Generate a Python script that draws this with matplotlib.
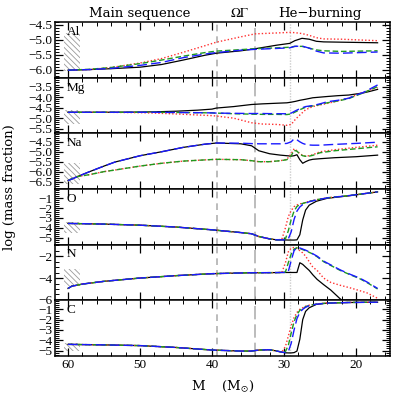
import matplotlib
matplotlib.use("Agg")
import matplotlib.pyplot as plt
from matplotlib.patches import Rectangle
from matplotlib.ticker import MultipleLocator

plt.rcParams['font.family'] = ['Liberation Serif', 'DejaVu Serif']
plt.rcParams['mathtext.fontset'] = 'stix'
plt.rcParams['hatch.linewidth'] = 0.6

# ---- data (mass coordinate in Msun, log mass fraction) ----
m_Al = [60, 57, 54, 50, 47, 44, 41, 39.4, 36, 34, 31, 29.2, 28.5, 27.5, 26.5, 25.5, 24.5, 22, 17]
al_black = [-6.02, -6.0, -5.97, -5.92, -5.83, -5.68, -5.52, -5.45, -5.37, -5.3, -5.18, -5.12, -5.03, -4.95, -4.98, -5.05, -5.07, -5.08, -5.1]
al_red = [-6.02, -6.0, -5.93, -5.78, -5.63, -5.42, -5.2, -5.08, -4.9, -4.8, -4.77, -4.75, -4.76, -4.79, -4.85, -4.93, -4.97, -4.98, -5.03]
al_green = [-6.02, -5.99, -5.93, -5.8, -5.68, -5.55, -5.43, -5.38, -5.33, -5.3, -5.27, -5.25, -5.22, -5.22, -5.28, -5.34, -5.37, -5.39, -5.37]
al_blue = [-6.02, -6.0, -5.96, -5.86, -5.76, -5.6, -5.48, -5.43, -5.35, -5.32, -5.29, -5.27, -5.22, -5.21, -5.28, -5.38, -5.44, -5.45, -5.41]

m_Mg = [60, 55, 50, 48, 45, 42, 40, 39.4, 37, 34.5, 33, 31, 29.6, 29.0, 28.4, 27.8, 27, 26, 25, 24, 22.5, 21, 20, 19, 18, 17]
mg_black = [-4.72, -4.72, -4.71, -4.7, -4.67, -4.62, -4.57, -4.52, -4.45, -4.35, -4.32, -4.29, -4.27, -4.24, -4.2, -4.15, -4.1, -4.03, -4.0, -3.97, -3.93, -3.9, -3.85, -3.8, -3.72, -3.63]
mg_red = [-4.72, -4.72, -4.74, -4.76, -4.8, -4.85, -4.88, -4.9, -5.0, -5.22, -5.28, -5.3, -5.34, -5.3, -5.05, -4.85, -4.6, -4.45, -4.37, -4.3, -4.18, -4.05, -3.9, -3.78, -3.65, -3.55]
mg_green = [-4.72, -4.72, -4.72, -4.72, -4.73, -4.74, -4.75, -4.76, -4.79, -4.81, -4.82, -4.82, -4.83, -4.8, -4.7, -4.6, -4.48, -4.42, -4.35, -4.27, -4.18, -4.07, -3.93, -3.8, -3.65, -3.5]
mg_blue = [-4.72, -4.72, -4.72, -4.72, -4.73, -4.74, -4.75, -4.76, -4.77, -4.78, -4.78, -4.79, -4.79, -4.76, -4.65, -4.55, -4.45, -4.4, -4.32, -4.22, -4.15, -4.05, -3.9, -3.78, -3.6, -3.42]

m_Na = [60, 59.5, 58.7, 57, 55, 53.5, 50, 47, 44, 41, 39.4, 36, 34.5, 33.5, 32, 30.5, 29.6, 29.0, 28.6, 28.2, 27.8, 27.4, 27.0, 26.5, 26, 25, 23, 20, 17]
na_black = [-6.45, -6.38, -6.25, -6.0, -5.72, -5.52, -5.2, -5.0, -4.78, -4.62, -4.56, -4.6, -4.7, -4.95, -5.1, -5.17, -5.2, -5.22, -5.2, -5.15, -5.4, -5.58, -5.5, -5.42, -5.38, -5.35, -5.3, -5.25, -5.17]
na_blue = [-6.45, -6.38, -6.25, -6.0, -5.72, -5.52, -5.2, -5.0, -4.78, -4.62, -4.56, -4.57, -4.59, -4.6, -4.6, -4.6, -4.58, -4.5, -4.35, -4.4, -4.5, -4.58, -4.63, -4.66, -4.67, -4.67, -4.63, -4.58, -4.52]
na_red = [-6.45, -6.35, -6.25, -6.15, -6.0, -5.92, -5.72, -5.58, -5.47, -5.41, -5.38, -5.4, -5.45, -5.5, -5.5, -5.45, -5.38, -5.1, -4.85, -4.95, -5.1, -5.18, -5.22, -5.2, -5.15, -5.0, -4.9, -4.78, -4.67]
na_green = [-6.45, -6.35, -6.25, -6.15, -6.0, -5.92, -5.72, -5.58, -5.47, -5.41, -5.38, -5.4, -5.45, -5.5, -5.5, -5.45, -5.4, -5.2, -4.93, -4.97, -5.12, -5.2, -5.23, -5.22, -5.18, -5.05, -4.95, -4.85, -4.75]

m_O = [60, 55, 50, 45, 40, 36, 34.5, 33.5, 32, 31, 30.3, 29.8, 29.4, 29.0, 28.6, 28.2, 27.8, 27.4, 27.0, 26.5, 25.5, 24, 21, 17]
o_black = [-3.55, -3.62, -3.73, -3.92, -4.2, -4.48, -4.6, -4.88, -5.12, -5.22, -5.22, -5.23, -5.24, -5.24, -5.24, -5.22, -4.7, -3.2, -2.2, -1.7, -1.3, -1.0, -0.75, -0.35]
o_red = [-3.55, -3.62, -3.73, -3.92, -4.2, -4.48, -4.6, -4.88, -5.12, -5.22, -5.17, -4.0, -2.85, -2.25, -1.85, -1.68, -1.57, -1.5, -1.42, -1.3, -1.15, -0.95, -0.73, -0.35]
o_green = [-3.55, -3.62, -3.73, -3.92, -4.2, -4.48, -4.6, -4.88, -5.12, -5.22, -5.22, -5.12, -4.3, -3.15, -2.3, -1.83, -1.63, -1.52, -1.44, -1.32, -1.15, -0.95, -0.73, -0.35]
o_blue = [-3.55, -3.62, -3.73, -3.92, -4.2, -4.48, -4.6, -4.88, -5.12, -5.22, -5.22, -5.22, -5.12, -4.4, -3.15, -2.3, -1.88, -1.64, -1.5, -1.35, -1.17, -0.96, -0.73, -0.35]

m_N = [60, 59.5, 58, 55, 50, 45, 40, 35, 31, 30.3, 29.8, 29.4, 29.0, 28.6, 28.2, 27.8, 27.4, 27.0, 26.5, 26, 25.4, 24.5, 23.5, 22.2, 20.8, 19.5, 18.5, 17]
n_black = [-4.95, -4.75, -4.55, -4.3, -4.0, -3.78, -3.6, -3.52, -3.5, -3.49, -3.49, -3.49, -3.49, -3.49, -3.49, -2.6, -2.75, -3.0, -3.3, -3.7, -4.12, -4.6, -5.1, -5.9, -6.5, -7.0, -7.2, -7.5]
n_red = [-4.95, -4.75, -4.55, -4.3, -4.0, -3.78, -3.6, -3.52, -3.5, -3.49, -2.6, -1.6, -1.25, -1.2, -1.3, -1.5, -1.7, -2.0, -2.5, -3.0, -3.3, -4.0, -4.4, -4.66, -4.9, -5.15, -5.35, -5.85]
n_green = [-4.95, -4.75, -4.55, -4.3, -4.0, -3.78, -3.6, -3.52, -3.5, -3.49, -3.45, -2.6, -1.8, -1.35, -1.22, -1.3, -1.4, -1.5, -1.65, -1.8, -2.05, -2.5, -2.85, -3.3, -3.7, -4.05, -4.4, -5.0]
n_blue = [-4.95, -4.75, -4.55, -4.3, -4.0, -3.78, -3.6, -3.52, -3.5, -3.49, -3.49, -3.4, -2.4, -1.5, -1.2, -1.25, -1.35, -1.45, -1.6, -1.78, -2.0, -2.45, -2.8, -3.25, -3.66, -4.0, -4.35, -4.95]

m_C = m_O
c_black = [-4.4, -4.45, -4.52, -4.7, -4.95, -5.05, -5.05, -4.95, -4.92, -5.05, -5.15, -5.22, -5.23, -5.23, -5.2, -5.05, -3.9, -2.0, -1.2, -0.85, -0.52, -0.4, -0.34, -0.31]
c_red = [-4.4, -4.45, -4.52, -4.7, -4.95, -5.05, -5.05, -4.95, -4.92, -5.05, -5.15, -4.6, -3.6, -2.6, -1.8, -1.3, -1.0, -0.85, -0.7, -0.6, -0.48, -0.38, -0.33, -0.31]
c_green = [-4.4, -4.45, -4.52, -4.7, -4.95, -5.05, -5.05, -4.95, -4.92, -5.05, -5.15, -5.1, -4.5, -3.3, -2.2, -1.5, -1.1, -0.9, -0.75, -0.62, -0.49, -0.39, -0.33, -0.31]
c_blue = [-4.4, -4.45, -4.52, -4.7, -4.95, -5.05, -5.05, -4.95, -4.92, -5.05, -5.15, -5.2, -5.1, -4.3, -3.0, -1.9, -1.3, -1.0, -0.8, -0.65, -0.5, -0.4, -0.34, -0.31]

elements = ['Al', 'Mg', 'Na', 'O', 'N', 'C']
masses = [m_Al, m_Mg, m_Na, m_O, m_N, m_C]
series = [
    (al_black, al_red, al_green, al_blue),
    (mg_black, mg_red, mg_green, mg_blue),
    (na_black, na_red, na_green, na_blue),
    (o_black, o_red, o_green, o_blue),
    (n_black, n_red, n_green, n_blue),
    (c_black, c_red, c_green, c_blue),
]
ylims = [(-6.27, -4.4), (-5.72, -3.07), (-6.87, -4.07), (-5.7, -0.05), (-6.03, -0.94), (-5.52, -0.12)]
ymajor = [0.5, 0.5, 0.5, 1, 2, 1]
yminor = [0.1, 0.1, 0.1, 0.2, 0.5, 0.2]
# initial-composition range (hatched box)
hatch_lo = [-6.05, -5.3, -6.6, -4.5, -4.73, -5.09]
hatch_hi = [-4.77, -4.6, -5.55, -3.45, -3.21, -4.26]

ms_end, omega_gamma, he_start = 39.35, 34.0, 29.1

styles = [
    dict(color='black', ls='-', lw=0.9),
    dict(color='#ff3030', ls=(0, (1, 1.5)), lw=1.0),
    dict(color='#1f9a1f', ls=(0, (4, 2)), lw=1.0),
    dict(color='#1a1aff', ls=(0, (7, 3)), lw=1.0),
]

fig, axes = plt.subplots(6, 1, sharex=True, figsize=(3.99, 3.99), dpi=100)
fig.subplots_adjust(left=0.138, right=0.977, top=0.945, bottom=0.108, hspace=0)

for i, ax in enumerate(axes):
    ax.add_patch(Rectangle((58.4, hatch_lo[i]), 2.1, hatch_hi[i] - hatch_lo[i],
                           fill=False, hatch='\\\\\\\\\\\\', edgecolor='#999999', lw=0))
    ax.axvline(ms_end, color='#b0b0b0', ls=(0, (4, 3)), lw=1.2)
    ax.axvline(omega_gamma, color='#b0b0b0', ls=(0, (8, 3)), lw=1.2)
    ax.axvline(he_start, color='#cccccc', ls=(0, (1, 1)), lw=1.0)
    for y, st in zip(series[i], styles):
        ax.plot(masses[i], y, **st)
    ax.set_ylim(*ylims[i])
    ax.set_xlim(61.8, 15.3)
    ax.yaxis.set_major_locator(MultipleLocator(ymajor[i]))
    ax.yaxis.set_minor_locator(MultipleLocator(yminor[i]))
    ax.xaxis.set_major_locator(MultipleLocator(10))
    ax.xaxis.set_minor_locator(MultipleLocator(2))
    ax.tick_params(which='both', direction='in', top=True, right=True, labelsize=9.5, pad=2)
    ax.tick_params(which='major', length=5.5, width=0.9)
    ax.tick_params(which='minor', length=3, width=0.7)
    for sp in ax.spines.values():
        sp.set_linewidth(1.1)
    ax.text(0.035, 0.93, elements[i], transform=ax.transAxes, ha='left', va='top', fontsize=9.5)

top = axes[0]
for xm, lab in [(50, 'Main sequence'), (36.1, r'$\Omega\Gamma$'), (25, 'He\u2212burning')]:
    top.text(xm, 1.04, lab, transform=top.get_xaxis_transform(), ha='center', va='bottom',
             fontsize=9.5, family='DejaVu Serif')

axes[-1].set_xlabel(r'M    (M$_{\odot}$)', fontsize=9.5, labelpad=6, family='DejaVu Serif')
fig.text(0.025, 0.53, 'log (mass fraction)', rotation=90, ha='center', va='center',
         fontsize=9.5, family='DejaVu Serif')

fig.savefig('out.png', dpi=100)
